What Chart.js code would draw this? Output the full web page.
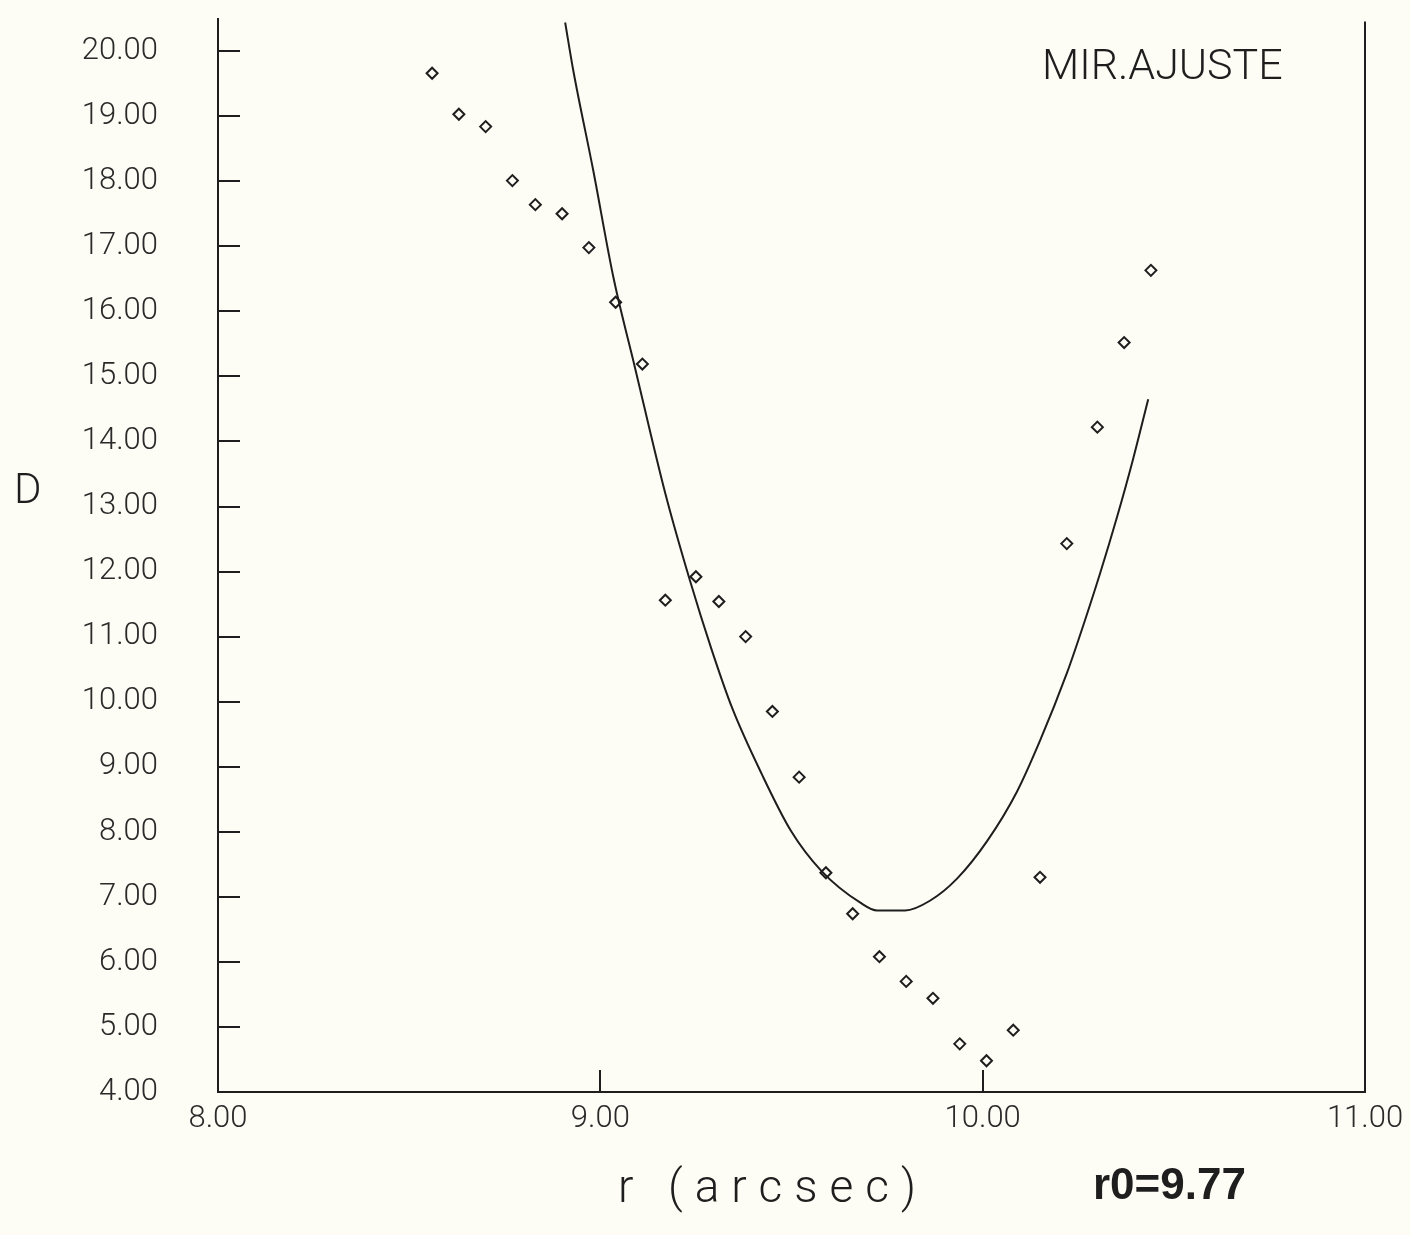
<!DOCTYPE html>
<html>
<head>
<meta charset="utf-8">
<title>MIR.AJUSTE</title>
<script src="https://cdn.jsdelivr.net/npm/chart.js@4.4.1/dist/chart.umd.min.js"></script>
<style>
  body { margin: 0; background: #fdfdf5; }
  #wrap { width: 1410px; height: 1235px; position: relative; }
</style>
</head>
<body>
<div id="wrap"><canvas id="myChart"></canvas></div>
<script>
// measured points (diamonds)
const rValues = [8.56, 8.63, 8.70, 8.77, 8.83, 8.90, 8.97, 9.04, 9.11, 9.17, 9.25, 9.31, 9.38, 9.45,
                 9.52, 9.59, 9.66, 9.73, 9.80, 9.87, 9.94, 10.01, 10.08, 10.15, 10.22, 10.30, 10.37, 10.44];
const dValues = [19.66, 19.03, 18.84, 18.01, 17.64, 17.50, 16.98, 16.14, 15.19, 11.56, 11.92, 11.54, 11.00, 9.85,
                 8.84, 7.37, 6.74, 6.08, 5.70, 5.44, 4.74, 4.48, 4.95, 7.30, 12.43, 14.22, 15.52, 16.63];

// fitted curve
const fitR = [8.908, 8.929, 8.981, 9.035, 9.090, 9.170, 9.235, 9.290, 9.345, 9.422, 9.498, 9.578, 9.680,
              9.724, 9.797, 9.862, 9.933, 10.012, 10.090, 10.150, 10.221, 10.250, 10.307, 10.352, 10.393, 10.433];
const fitD = [20.44, 19.71, 18.18, 16.50, 15.15, 13.20, 11.85, 10.82, 9.90, 8.89, 8.02, 7.40, 6.91,
              6.79, 6.79, 6.94, 7.28, 7.86, 8.62, 9.40, 10.45, 10.94, 11.97, 12.85, 13.72, 14.65];

const xTicks = [8, 9, 10, 11];
const yTicks = [4, 5, 6, 7, 8, 9, 10, 11, 12, 13, 14, 15, 16, 17, 18, 19, 20];

const inkColor = '#1e1e1e';
const thinFont = 'Roboto, "Liberation Sans", sans-serif';

function line(ctx, x1, y1, x2, y2) {
    ctx.beginPath();
    ctx.moveTo(x1, y1);
    ctx.lineTo(x2, y2);
    ctx.stroke();
}

// inward ticks, right frame line and the loose texts
const extrasPlugin = {
    id: 'extras',
    afterDraw(chart) {
        const ctx = chart.ctx;
        const xs = chart.scales.x;
        const ys = chart.scales.y;
        const area = chart.chartArea;
        ctx.save();
        ctx.strokeStyle = inkColor;
        ctx.lineWidth = 2;
        yTicks.slice(1).forEach(v => {
            const py = Math.round(ys.getPixelForValue(v));
            line(ctx, area.left, py, area.left + 22, py);
        });
        xTicks.slice(1, -1).forEach(v => {
            const px = Math.round(xs.getPixelForValue(v));
            line(ctx, px, area.bottom, px, area.bottom - 22);
        });
        line(ctx, area.right, area.top + 3, area.right, area.bottom);

        ctx.fillStyle = inkColor;
        ctx.textBaseline = 'middle';
        ctx.textAlign = 'left';
        ctx.font = '300 42px ' + thinFont;
        ctx.fillText('D', 14, 492);

        ctx.font = '300 46px ' + thinFont;
        ctx.fillText('r', 618, 1190);
        ctx.letterSpacing = '12px';
        ctx.fillText('(arcsec)', 668, 1190);
        ctx.letterSpacing = '0px';

        ctx.font = '300 43px ' + thinFont;
        ctx.fillText('MIR.AJUSTE', 1042, 68);

        ctx.font = 'bold 44px "Liberation Sans", Arial, sans-serif';
        ctx.fillText('r0=9.77', 1093, 1187);
        ctx.restore();
    }
};

const ctx = document.getElementById('myChart').getContext('2d');
const myChart = new Chart(ctx, {
    type: 'scatter',
    data: {
        datasets: [{
            label: 'ajuste',
            type: 'line',
            data: fitR.map((r, i) => ({ x: r, y: fitD[i] })),
            borderColor: inkColor,
            borderWidth: 2,
            pointRadius: 0,
            cubicInterpolationMode: 'monotone',
            fill: false
        }, {
            label: 'D',
            data: rValues.map((r, i) => ({ x: r, y: dValues[i] })),
            pointStyle: 'rectRot',
            pointRadius: 5.5,
            borderColor: inkColor,
            borderWidth: 2,
            backgroundColor: 'rgba(0,0,0,0)'
        }]
    },
    options: {
        responsive: true,
        maintainAspectRatio: false,
        animation: false,
        layout: {
            padding: { left: 0, right: 45, top: 15, bottom: 0 }
        },
        plugins: {
            legend: { display: false },
            tooltip: { enabled: false }
        },
        scales: {
            x: {
                type: 'linear',
                min: 8,
                max: 11,
                afterBuildTicks: scale => { scale.ticks = xTicks.map(v => ({ value: v })); },
                afterFit: scale => { scale.height = 143; },
                // invisible tick marks only push the labels away from the axis
                grid: { display: true, drawOnChartArea: false, drawTicks: true, tickLength: 9, tickColor: 'rgba(0,0,0,0)' },
                border: { display: true, color: inkColor, width: 2 },
                ticks: {
                    padding: 0,
                    maxRotation: 0,
                    color: '#2a2a2a',
                    font: { family: thinFont, size: 31, weight: '300' },
                    callback: v => v.toFixed(2)
                }
            },
            y: {
                min: 4,
                max: 20.5,
                afterBuildTicks: scale => { scale.ticks = yTicks.map(v => ({ value: v })); },
                afterFit: scale => { scale.width = 218; },
                grid: { display: true, drawOnChartArea: false, drawTicks: true, tickLength: 60, tickColor: 'rgba(0,0,0,0)' },
                border: { display: true, color: inkColor, width: 2 },
                ticks: {
                    padding: 0,
                    color: '#2a2a2a',
                    font: { family: thinFont, size: 31, weight: '300' },
                    callback: v => v.toFixed(2)
                }
            }
        }
    },
    plugins: [extrasPlugin]
});
</script>
</body>
</html>
